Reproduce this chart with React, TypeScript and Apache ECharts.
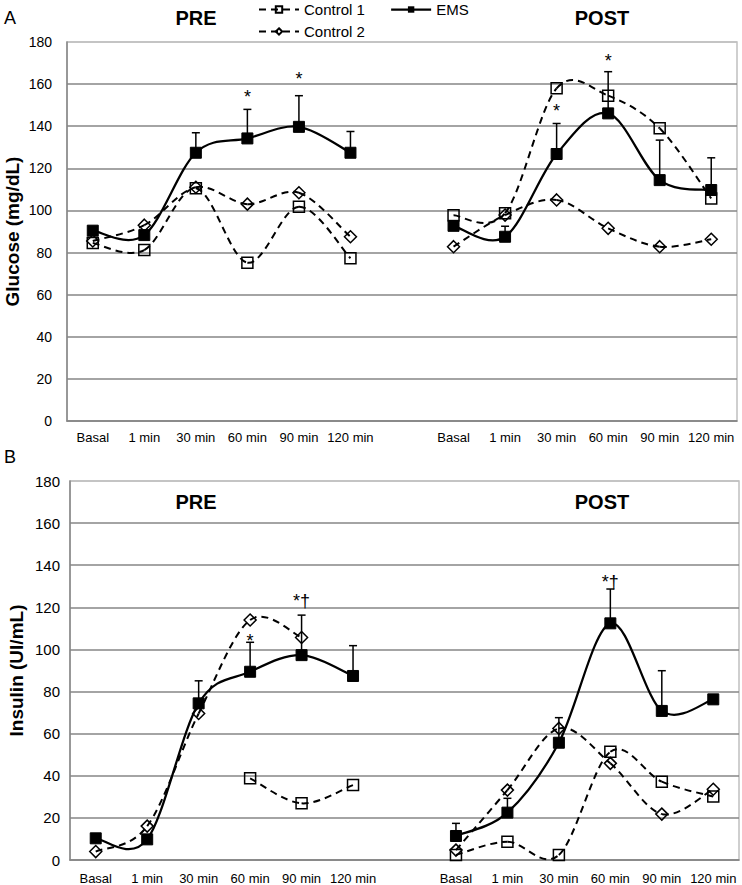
import React, { useEffect, useRef } from "react";
import * as echarts from "echarts";

const categories = ["Basal", "1 min", "30 min", "60 min", "90 min", "120 min"];
const xLabels = [...categories, "", ...categories];
const yTicks = { min: 0, max: 180, interval: 20 };

// Panel A – Glucose (mg/dL)
const glucPreC1 = [84.5, 81.2, 110.5, 75.2, 101.8, 77.3];
const glucPostC1 = [97.7, 98.7, 158, 154.5, 139, 105.7];
const glucPreC2 = [85.5, 93, 111, 103, 108.4, 87.5];
const glucPostC2 = [82.8, 97.8, 105, 91.5, 82.8, 86.3];
const glucPreEMS = [90.4, 88.3, 127.4, 134.2, 139.7, 127.4];
const glucPostEMS = [92.7, 87.5, 126.8, 146.1, 114.4, 109.7];
const glucPreErr = [null, null, 9.5, 13.8, 14.8, 10.1];
const glucPostErr = [null, 5, 14.5, 19.8, 19, 15.3];
const glucPreMarks = ["", "", "", "*", "*", ""];
const glucPreMarkAt = [null, null, null, 155.7, 164.3, null];
const glucPostMarks = ["", "", "*", "*", "", ""];
const glucPostMarkAt = [null, null, 149.2, 173, null, null];

// Panel B – Insulin (UI/mL)
const insPreC1 = [null, null, null, 38.8, 26.9, 35.6];
const insPostC1 = [2.4, 8.7, 2.4, 51.4, 37.2, 30.1];
const insPreC2 = [4, 16.1, 69.6, 114, 105.7, null];
const insPostC2 = [4.7, 33.2, 62.5, 45.9, 21.8, 33.6];
const insPreEMS = [10.3, 9.8, 74.4, 89.4, 97.3, 87.4];
const insPostEMS = [11.4, 22.5, 55.7, 112.4, 70.8, 76.3];
const insPreErr = [null, null, 10.7, 14, 19, 14.4];
const insPostErr = [6, 6.8, 11.9, 16.3, 19.1, null];
const insPreMarks = ["", "", "", "*", "*\u2020", ""];
const insPreMarkAt = [null, null, null, 106, 125, null];
const insPostMarks = ["", "", "", "*\u2020", "", ""];
const insPostMarkAt = [null, null, null, 133.8, null, null];

const FONT = '"Liberation Sans", Arial, sans-serif';
const DASH = [7, 5];

type V = number | null;
const join = (a: V[], b: V[]) => [...a, null, ...b];

function errData(pre: V[], post: V[], preErr: V[], postErr: V[]) {
  const v = join(pre, post);
  const e = join(preErr, postErr);
  const out: number[][] = [];
  v.forEach((val, i) => {
    if (val != null && e[i] != null) out.push([i, val, e[i] as number]);
  });
  return out;
}

function markData(preT: string[], preAt: V[], postT: string[], postAt: V[]) {
  const t = [...preT, "", ...postT];
  const at = join(preAt, postAt);
  const data: number[][] = [];
  const texts: string[] = [];
  at.forEach((y, i) => {
    if (y != null && t[i]) {
      data.push([i, y]);
      texts.push(t[i]);
    }
  });
  return { data, texts };
}

// Excel-like smoothed line: Catmull-Rom bezier segments between neighbouring points
function curveSeries(name: string, idx: number, vals: V[], lineStyle: any) {
  const segs: number[][] = [];
  for (let k = 0; k < vals.length - 1; k++) {
    if (vals[k] != null && vals[k + 1] != null) segs.push([k, vals[k] as number]);
  }
  return {
    name,
    type: "custom",
    xAxisIndex: idx,
    yAxisIndex: idx,
    data: segs,
    silent: true,
    z: 2,
    renderItem: (params: any, api: any) => {
      const k = api.value(0);
      const pt = (i: number) => api.coord([i, vals[i] as number]);
      const p1 = pt(k);
      const p2 = pt(k + 1);
      const p0 = k - 1 >= 0 && vals[k - 1] != null ? pt(k - 1) : p1;
      const p3 = k + 2 < vals.length && vals[k + 2] != null ? pt(k + 2) : p2;
      return {
        type: "bezierCurve",
        shape: {
          x1: p1[0],
          y1: p1[1],
          x2: p2[0],
          y2: p2[1],
          cpx1: p1[0] + (p2[0] - p0[0]) / 6,
          cpy1: p1[1] + (p2[1] - p0[1]) / 6,
          cpx2: p2[0] - (p3[0] - p1[0]) / 6,
          cpy2: p2[1] - (p3[1] - p1[1]) / 6,
        },
        style: { stroke: "#000", fill: "none", lineWidth: lineStyle.width, lineDash: lineStyle.dash },
      };
    },
  };
}

function markerSeries(name: string, idx: number, vals: V[], symbol: string, size: number, filled: boolean, z: number) {
  return {
    name,
    type: "line",
    xAxisIndex: idx,
    yAxisIndex: idx,
    data: vals,
    connectNulls: false,
    symbol,
    symbolSize: size,
    showSymbol: true,
    itemStyle: filled
      ? { color: "#000", borderColor: "#000" }
      : { color: "rgba(255,255,255,0)", borderColor: "#000", borderWidth: 1.5 },
    lineStyle: { color: "#000", width: 2, opacity: 0 },
    z,
  };
}

function panelSeries(idx: number, c1: V[], c2: V[], ems: V[], err: number[][], marks: { data: number[][]; texts: string[] }) {
  return [
    curveSeries("Control 1 line", idx, c1, { width: 2, dash: DASH }),
    curveSeries("Control 2 line", idx, c2, { width: 2, dash: DASH }),
    curveSeries("EMS line", idx, ems, { width: 2.25, dash: null }),
    markerSeries("Control 1", idx, c1, "rect", 11, false, 3),
    markerSeries("Control 2", idx, c2, "diamond", 12, false, 3),
    markerSeries("EMS", idx, ems, "rect", 11, true, 4),
    {
      name: "EMS SD",
      type: "custom",
      xAxisIndex: idx,
      yAxisIndex: idx,
      data: err,
      z: 2,
      silent: true,
      renderItem: (params: any, api: any) => {
        const x = api.value(0);
        const v = api.value(1);
        const e = api.value(2);
        const p0 = api.coord([x, v]);
        const p1 = api.coord([x, v + e]);
        const st = { stroke: "#000", lineWidth: 1.5 };
        return {
          type: "group",
          children: [
            { type: "line", shape: { x1: p0[0], y1: p0[1], x2: p1[0], y2: p1[1] }, style: st },
            { type: "line", shape: { x1: p1[0] - 4, y1: p1[1], x2: p1[0] + 4, y2: p1[1] }, style: st },
          ],
        };
      },
    },
    {
      name: "Significance",
      type: "custom",
      xAxisIndex: idx,
      yAxisIndex: idx,
      data: marks.data,
      z: 5,
      silent: true,
      renderItem: (params: any, api: any) => {
        const p = api.coord([api.value(0), api.value(1)]);
        return {
          type: "text",
          x: p[0],
          y: p[1] + 4,
          style: {
            text: marks.texts[params.dataIndex],
            fill: "#000",
            font: `18px ${FONT}`,
            align: "center",
            verticalAlign: "middle",
          },
        };
      },
    },
  ];
}

export default function App() {
  const ref = useRef<HTMLDivElement>(null);
  useEffect(() => {
    if (!ref.current) return;
    const chart = echarts.init(ref.current, null, { renderer: "svg" });
    const gridLineColors = ["#868686", "#868686", "#868686", "#868686", "#868686", "#868686", "#868686", "#868686", "#868686", "#c0c0c0"];
    const yAxisBase = (gridIndex: number, name: string, labelSize: number, margin: number, gap: number) => ({
      type: "value",
      gridIndex,
      min: yTicks.min,
      max: yTicks.max,
      interval: yTicks.interval,
      name,
      nameLocation: "middle",
      nameRotate: 90,
      nameGap: gap,
      nameMoveOverlap: false,
      nameTextStyle: { fontFamily: FONT, fontWeight: "bold", fontSize: 19, color: "#000" },
      axisLine: { show: true, lineStyle: { color: "#868686", width: 1.5 } },
      axisTick: { show: false },
      axisLabel: { fontFamily: FONT, fontSize: labelSize, color: "#000", margin },
      splitLine: { show: true, lineStyle: { color: gridLineColors, width: 1.5 } },
    });
    const xAxisBase = (gridIndex: number, margin: number) => ({
      type: "category",
      gridIndex,
      data: xLabels,
      boundaryGap: true,
      axisLine: { show: true, lineStyle: { color: "#868686", width: 1.5 } },
      axisTick: { show: false },
      axisLabel: { fontFamily: FONT, fontSize: 13, color: "#000", margin, interval: 0 },
      splitLine: { show: false },
    });
    const titleText = (text: string, x: number, y: number, size: number, weight: string) => ({
      type: "text",
      x,
      y,
      style: {
        text,
        fill: "#000",
        font: `${weight} ${size}px ${FONT}`,
        align: "center",
        verticalAlign: "middle",
      },
    });
    const legendCommon = {
      itemWidth: 40,
      itemHeight: 8,
      textStyle: { fontFamily: FONT, fontSize: 15, color: "#000" },
      padding: 0,
    };
    const dashedLegend = { color: "#000", width: 2, type: DASH, opacity: 1 };
    const gridCommon = {
      show: true,
      borderColor: "#c0c0c0",
      borderWidth: 1.5,
      backgroundColor: "transparent",
      containLabel: false,
      outerBoundsMode: "none",
    };
    chart.setOption({
      animation: false,
      backgroundColor: "#fff",
      grid: [
        { ...gridCommon, left: 67, top: 42, right: 5, height: 379 },
        { ...gridCommon, left: 70, top: 481, right: 3, height: 379 },
      ],
      xAxis: [xAxisBase(0, 10), xAxisBase(1, 12)],
      yAxis: [yAxisBase(0, "Glucose (mg/dL)", 14, 15, 45), yAxisBase(1, "Insulin (UI/mL)", 15, 10, 44)],
      legend: [
        { ...legendCommon, left: 258, top: 2, data: [{ name: "Control 1", lineStyle: dashedLegend }] },
        { ...legendCommon, left: 390, top: 2, data: [{ name: "EMS", lineStyle: { color: "#000", width: 2.25, type: "solid", opacity: 1 } }] },
        { ...legendCommon, left: 258, top: 24, data: [{ name: "Control 2", lineStyle: dashedLegend }] },
      ],
      graphic: [
        titleText("A", 10, 18, 18, "normal"),
        titleText("B", 10, 457, 18, "normal"),
        titleText("PRE", 196, 18, 20, "bold"),
        titleText("POST", 602, 18, 20, "bold"),
        titleText("PRE", 196, 502, 20, "bold"),
        titleText("POST", 602, 502, 20, "bold"),
      ],
      series: [
        ...panelSeries(
          0,
          join(glucPreC1, glucPostC1),
          join(glucPreC2, glucPostC2),
          join(glucPreEMS, glucPostEMS),
          errData(glucPreEMS, glucPostEMS, glucPreErr, glucPostErr),
          markData(glucPreMarks, glucPreMarkAt, glucPostMarks, glucPostMarkAt)
        ),
        ...panelSeries(
          1,
          join(insPreC1, insPostC1),
          join(insPreC2, insPostC2),
          join(insPreEMS, insPostEMS),
          errData(insPreEMS, insPostEMS, insPreErr, insPostErr),
          markData(insPreMarks, insPreMarkAt, insPostMarks, insPostMarkAt)
        ),
      ],
    });
    return () => chart.dispose();
  }, []);
  return (
    <div
      ref={ref}
      style={{ position: "absolute", left: 0, top: 0, width: 742, height: 885, background: "#fff" }}
    />
  );
}
